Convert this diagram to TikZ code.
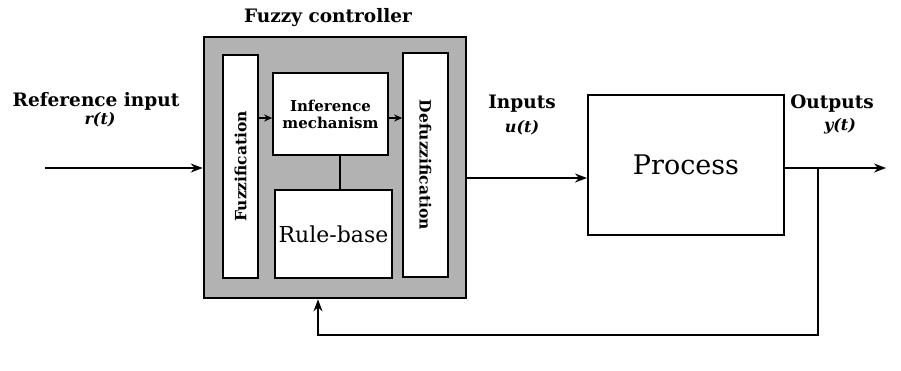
\documentclass[tikz,border=0pt]{standalone}
\usepackage{fontspec}
\setmainfont{DejaVu Serif}
\usetikzlibrary{arrows.meta}
\begin{document}
\begin{tikzpicture}[x=1pt,y=-1pt,
  blk/.style={draw=black,line width=1.6pt,fill=white,rectangle,inner sep=0pt},
  lbl/.style={font=\bfseries\fontsize{18.5}{20}\selectfont,inner sep=0pt},
  sig/.style={font=\bfseries\itshape\fontsize{16}{18}\selectfont,inner sep=0pt},
  wire/.style={line width=1.4pt},
  arr/.style={wire,-{Stealth[length=12pt,width=9pt]}},
  smallarr/.style={wire,-{Stealth[length=8pt,width=7pt]}}]
\useasboundingbox (0,0) rectangle (901,370);
% controller
\node[blk,fill=gray!60,line width=2.6pt,minimum width=262pt,minimum height=261pt] (ctrl) at (335,167.5) {};
\node[lbl] (ctitle) at (328,18) {Fuzzy controller};
\node[blk,minimum width=35pt,minimum height=223pt] (fuzz) at (240.5,166.5) {};
\node[lbl,rotate=90,font=\bfseries\fontsize{15.5}{17}\selectfont] (fuzzt) at (fuzz.center) {Fuzzification};
\node[blk,minimum width=115pt,minimum height=82pt,align=center,font=\bfseries\fontsize{15}{17}\selectfont] (inf) at (330.5,114) {Inference\\mechanism};
\node[blk,minimum width=117pt,minimum height=88pt,font=\fontsize{22}{24}\selectfont] (rule) at (333.5,234) {Rule-base};
\node[blk,minimum width=45pt,minimum height=224pt] (defuzz) at (425.5,165) {};
\node[lbl,rotate=-90,font=\bfseries\fontsize{15.5}{17}\selectfont] (defuzzt) at (defuzz.center) {Defuzzification};
\draw[smallarr] (fuzz.east |- 0,118) -- (inf.west |- 0,118);
\draw[smallarr] (inf.east |- 0,118) -- (defuzz.west |- 0,118);
\draw[wire,line width=2pt] (inf.south -| 340,0) -- (rule.north -| 340,0);
% process
\node[blk,line width=2pt,minimum width=196pt,minimum height=140pt,font=\fontsize{27}{29}\selectfont] (proc) at (686,165) {Process};
% labels
\node[lbl] (rlbl) at (96,101) {Reference input};
\node[sig] (rsig) at (100,120) {r(t)};
\node[lbl] (ulbl) at (522,104) {Inputs};
\node[sig] (usig) at (522,128) {u(t)};
\node[lbl] (ylbl) at (832,104) {Outputs};
\node[sig] (ysig) at (840,126) {y(t)};
% signals
\coordinate (rin) at (45,168);
\draw[arr] (rin) -- (rin -| ctrl.west);
\coordinate (uin) at (466,178);
\draw[arr] (uin) -- (uin -| proc.west);
\coordinate (yout) at (886,168);
\draw[arr] (proc.east |- yout) -- (yout);
\coordinate (br) at (818,168);
\coordinate (fbb) at (318,335);
\draw[arr] (br) -- (br |- fbb) -- (fbb) -- (fbb |- ctrl.south);
\end{tikzpicture}
\end{document}
